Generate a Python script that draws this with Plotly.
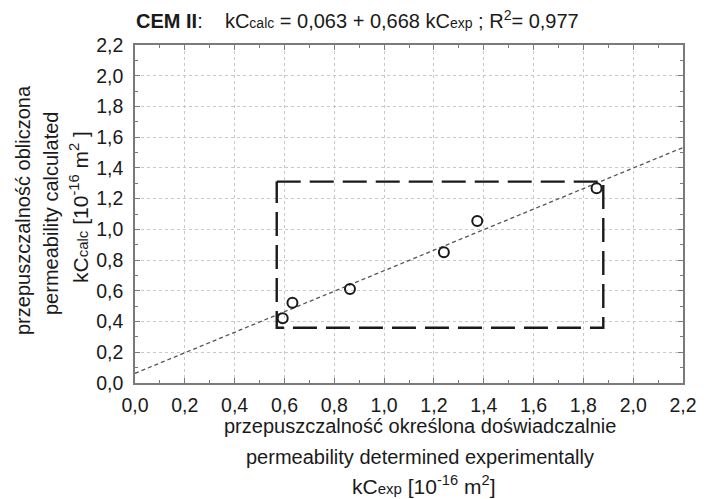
import plotly.graph_objects as go

# ---- data ----
kc_exp = [0.593, 0.632, 0.863, 1.240, 1.374, 1.853]
kc_calc = [0.421, 0.523, 0.612, 0.851, 1.055, 1.267]

intercept = 0.063
slope = 0.668
line_x = [0.0, 2.2]
line_y = [intercept + slope * v for v in line_x]

box_x = [0.569, 1.880, 1.880, 0.569, 0.569]
box_y = [1.311, 1.311, 0.360, 0.360, 1.311]

tick_vals = [round(0.2 * i, 1) for i in range(12)]
tick_text = [f"{v:.1f}".replace(".", ",") for v in tick_vals]

OFF = 8  # default page body margin
W, H = 710 - OFF, 499 - OFF
L, R, T, B = 135 - OFF, 683 - OFF, 45 - OFF, 383 - OFF
FONT = "Liberation Sans, Arial, sans-serif"


def px(xp, yp):
    xp -= OFF
    yp -= OFF
    return (xp - L) / (R - L), (B - yp) / (B - T)


fig = go.Figure()

fig.add_trace(go.Scatter(
    x=line_x, y=line_y, mode="lines",
    line=dict(color="#555555", width=1.3, dash="4px,3px"),
    hoverinfo="skip", showlegend=False))

fig.add_trace(go.Scatter(
    x=box_x, y=box_y, mode="lines",
    line=dict(color="#1a1a1a", width=2.4, dash="24px,9px"),
    hoverinfo="skip", showlegend=False))

fig.add_trace(go.Scatter(
    x=kc_exp, y=kc_calc, mode="markers",
    marker=dict(symbol="circle-open", size=10, color="#1a1a1a",
                line=dict(width=2, color="#1a1a1a")),
    showlegend=False))

axis_common = dict(
    range=[0, 2.2], tickvals=tick_vals, ticktext=tick_text,
    showgrid=True, gridcolor="#c8c8c8", griddash="dot", gridwidth=1,
    zeroline=False, showline=True, linecolor="#7a7a7a", linewidth=1.6,
    mirror="ticks", ticks="inside", ticklen=5, tickcolor="#7a7a7a",
    tickwidth=1,
    minor=dict(dtick=0.1, tick0=0, ticks="inside", ticklen=3,
               tickcolor="#7a7a7a", showgrid=False),
    tickfont=dict(family=FONT, size=19.5, color="#1a1a1a"),
    fixedrange=True,
)

fig.update_xaxes(**axis_common, ticklabelstandoff=4)
fig.update_yaxes(**axis_common, ticklabelstandoff=6)

nb = "\u00a0"
title = ("<b>CEM II</b>:" + nb * 4 + "kC<span style='font-size:14px'>calc</span>"
         " = 0,063 + 0,668 kC<span style='font-size:14px'>exp</span> ; R<sup>2</sup>= 0,977")

ann = []
tx, ty = px(357, 20)
ann.append(dict(text=title, x=tx, y=ty, font=dict(size=20)))

# y axis title lines
for text, xp, yp, size in [
    ("przepuszczalność obliczona", 23, 210, 20),
    ("permeability calculated", 51, 214, 20),
    ("kC<span style='font-size:15px'>calc</span> [10<sup>-16</sup> m<sup>2</sup> ]", 79, 207, 21),
]:
    xx, yy = px(xp, yp)
    ann.append(dict(text=text, x=xx, y=yy, textangle=-90, font=dict(size=size)))

# x axis title lines
for text, xp, yp, size in [
    ("przepuszczalność określona doświadczalnie", 420, 426, 20),
    ("permeability determined experimentally", 420, 457, 20),
    ("kC<span style='font-size:15px'>exp</span> [10<sup>-16</sup> m<sup>2</sup>]", 423, 485, 21),
]:
    xx, yy = px(xp, yp)
    ann.append(dict(text=text, x=xx, y=yy, font=dict(size=size)))

for a in ann:
    a.update(xref="paper", yref="paper", xanchor="center", yanchor="middle",
             showarrow=False)
    a["font"].update(family=FONT, color="#1a1a1a")

fig.update_layout(
    width=W, height=H,
    margin=dict(l=L, r=W - R, t=T, b=H - B, pad=0),
    paper_bgcolor="white", plot_bgcolor="white",
    separators=", ",
    annotations=ann,
    font=dict(family=FONT, color="#1a1a1a"),
)

fig.write_html("out.html")
